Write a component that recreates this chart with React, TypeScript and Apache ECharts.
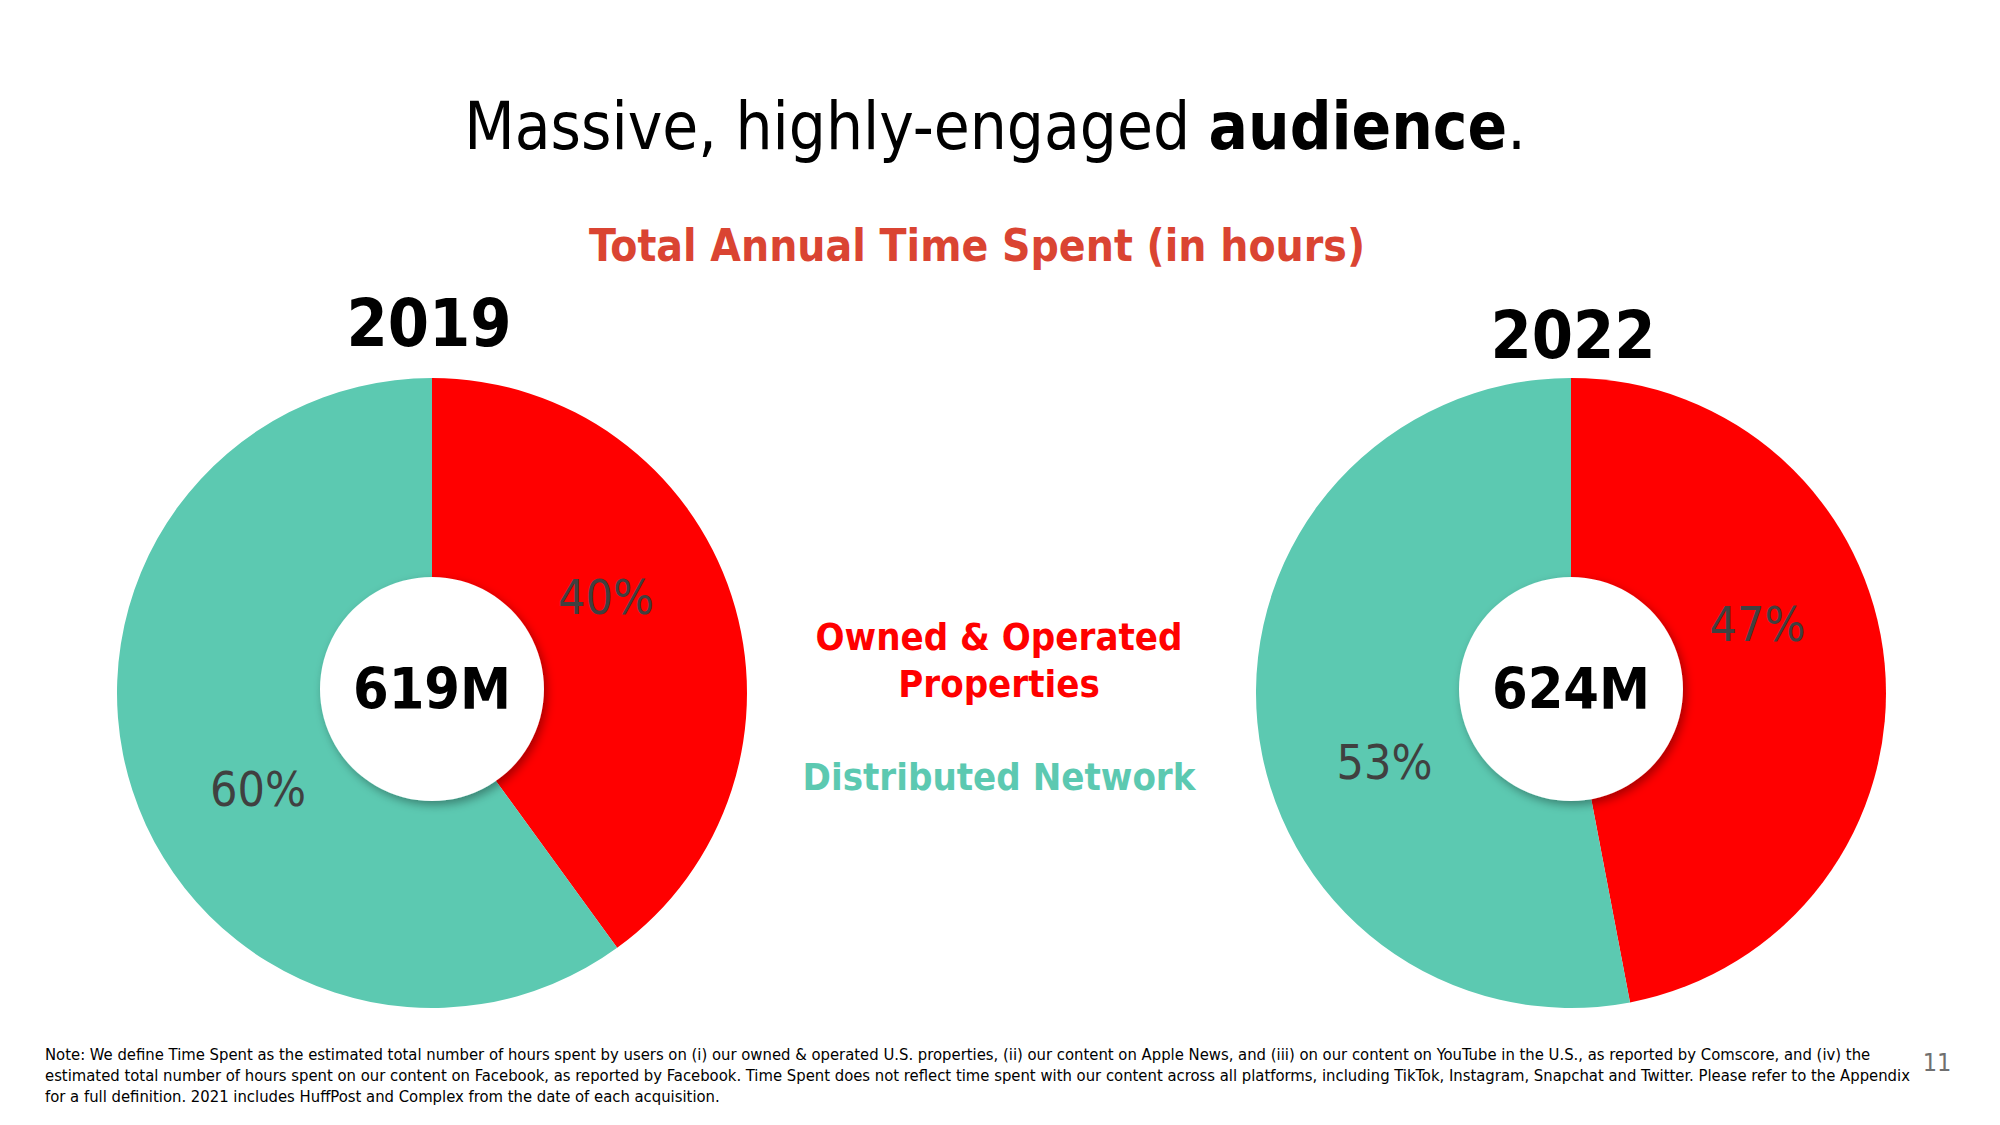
import React, { useEffect, useRef } from "react";
import * as echarts from "echarts";

const titleText = "Massive, highly-engaged ";
const titleBold = "audience";
const subtitle = "Total Annual Time Spent (in hours)";
const categories = ["Owned & Operated Properties", "Distributed Network"];
const colors = ["#FF0000", "#5CC9B1"];
const years = ["2019", "2022"];
const totals = ["619M", "624M"];
const shares2019 = [40, 60];
const shares2022 = [47, 53];
const footnoteLines = [
  "Note: We define Time Spent as the estimated total number of hours spent by users on (i) our owned & operated U.S. properties, (ii) our content on Apple News, and (iii) on our content on YouTube in the U.S., as reported by Comscore, and (iv) the",
  "estimated total number of hours spent on our content on Facebook, as reported by Facebook. Time Spent does not reflect time spent with our content across all platforms, including TikTok, Instagram, Snapchat and Twitter. Please refer to the Appendix",
  "for a full definition. 2021 includes HuffPost and Complex from the date of each acquisition.",
];
const pageNumber = "11";

const F = '"DejaVu Sans Condensed", "DejaVu Sans", sans-serif';

export default function App() {
  const ref = useRef<HTMLDivElement>(null);

  useEffect(() => {
    if (!ref.current) return;
    const chart = echarts.init(ref.current, null, { renderer: "svg" });

    const pies = [
      { center: [432, 693], hole: [432, 689], labelStart: 101, shares: shares2019, total: totals[0] },
      { center: [1571, 693], hole: [1571, 689], labelStart: 105, shares: shares2022, total: totals[1] },
    ];

    const series: any[] = [];
    pies.forEach((p) => {
      const data = categories.map((c, i) => ({
        name: c,
        value: p.shares[i],
        itemStyle: { color: colors[i] },
      }));
      series.push({
        type: "pie",
        center: p.center,
        radius: [0, 315],
        startAngle: 90,
        clockwise: true,
        silent: true,
        label: { show: false },
        labelLine: { show: false },
        data,
      });
      series.push({
        type: "pie",
        center: p.center,
        radius: [112, 280],
        startAngle: p.labelStart,
        clockwise: true,
        silent: true,
        itemStyle: { color: "rgba(0,0,0,0)" },
        label: {
          show: true,
          position: "inside",
          formatter: "{c}%",
          color: "#404040",
          fontSize: 48,
          fontFamily: F,
          textBorderWidth: 0,
        },
        labelLine: { show: false },
        data: categories.map((c, i) => ({
          name: c,
          value: p.shares[i],
          itemStyle: { color: "rgba(0,0,0,0)" },
        })),
      });
      series.push({
        type: "pie",
        center: p.hole,
        radius: [0, 112],
        silent: true,
        itemStyle: {
          color: "#FFFFFF",
          shadowBlur: 10,
          shadowOffsetX: 3,
          shadowOffsetY: 4,
          shadowColor: "rgba(0,0,0,0.35)",
        },
        label: {
          show: true,
          position: "center",
          formatter: p.total,
          color: "#000000",
          fontSize: 57,
          fontWeight: "bold",
          fontFamily: F,
          padding: [0, 0, 10, 0],
        },
        labelLine: { show: false },
        data: [{ name: p.total, value: 1 }],
      });
    });

    const graphic: any[] = [
      {
        type: "text",
        x: 995,
        y: 126,
        style: {
          text: titleText + "{b|" + titleBold + "}.",
          fill: "#000",
          fontSize: 65,
          fontFamily: F,
          align: "center",
          verticalAlign: "middle",
          rich: { b: { fontSize: 65, fontFamily: F, fontWeight: "bold", fill: "#000" } },
        },
      },
      {
        type: "text",
        x: 977,
        y: 245,
        style: {
          text: subtitle,
          fill: "#DA4432",
          fontSize: 44,
          fontWeight: "bold",
          fontFamily: F,
          align: "center",
          verticalAlign: "middle",
        },
      },
      {
        type: "text",
        x: 429,
        y: 323,
        style: {
          text: years[0],
          fill: "#000",
          fontSize: 66,
          fontWeight: "bold",
          fontFamily: F,
          align: "center",
          verticalAlign: "middle",
        },
      },
      {
        type: "text",
        x: 1573,
        y: 335,
        style: {
          text: years[1],
          fill: "#000",
          fontSize: 66,
          fontWeight: "bold",
          fontFamily: F,
          align: "center",
          verticalAlign: "middle",
        },
      },
      {
        type: "text",
        x: 999,
        y: 660,
        style: {
          text: categories[0].replace("Operated ", "Operated\n"),
          fill: colors[0],
          fontSize: 38,
          lineHeight: 47,
          fontWeight: "bold",
          fontFamily: F,
          align: "center",
          verticalAlign: "middle",
        },
      },
      {
        type: "text",
        x: 999,
        y: 777,
        style: {
          text: categories[1],
          fill: colors[1],
          fontSize: 38,
          fontWeight: "bold",
          fontFamily: F,
          align: "center",
          verticalAlign: "middle",
        },
      },
      {
        type: "text",
        x: 45,
        y: 1075,
        style: {
          text: footnoteLines.join("\n"),
          fill: "#000",
          fontSize: 16.5,
          lineHeight: 21,
          fontFamily: F,
          align: "left",
          verticalAlign: "middle",
        },
      },
      {
        type: "text",
        x: 1937,
        y: 1062,
        style: {
          text: pageNumber,
          fill: "#6F6F6F",
          fontSize: 25,
          fontFamily: F,
          align: "center",
          verticalAlign: "middle",
        },
      },
    ];

    chart.setOption({
      animation: false,
      backgroundColor: "#FFFFFF",
      series,
      graphic,
    });

    return () => chart.dispose();
  }, []);

  return (
    <div
      ref={ref}
      style={{ position: "fixed", left: 0, top: 0, width: 2000, height: 1125 }}
    />
  );
}
